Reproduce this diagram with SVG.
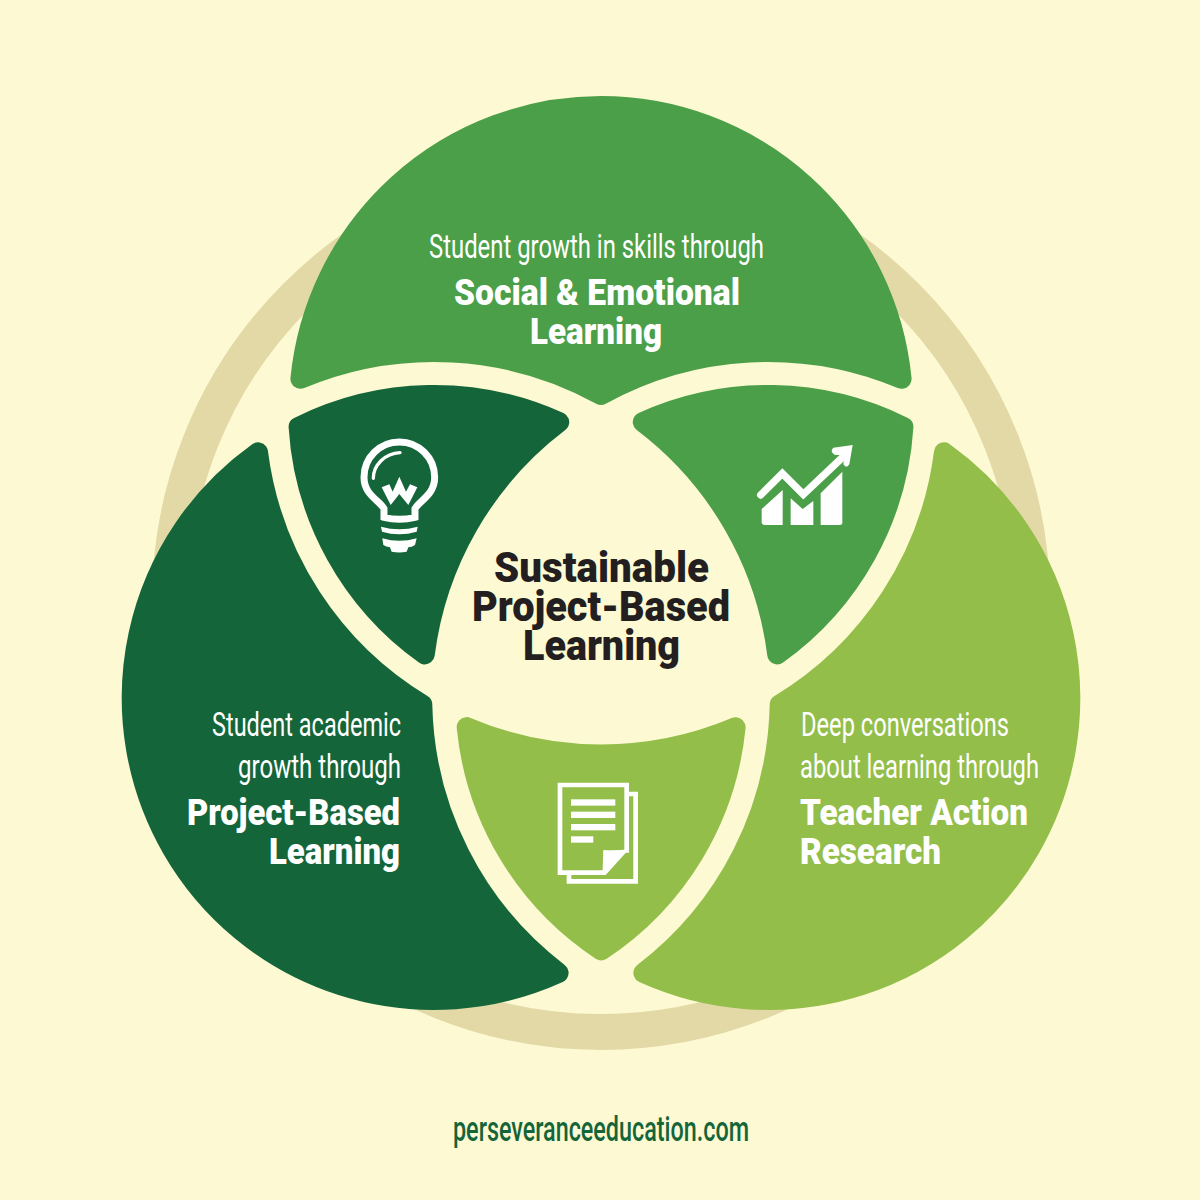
<svg xmlns="http://www.w3.org/2000/svg" width="1200" height="1200" viewBox="0 0 1200 1200">
<style>
.dark{fill:#14663A;stroke:#14663A}
.mid{fill:#4B9F48;stroke:#4B9F48}
.light{fill:#93BE4A;stroke:#93BE4A}
.shape{stroke-width:20;stroke-linejoin:round}
text{font-family:"Roboto","Liberation Sans",sans-serif}
.thin{font-size:33px;font-weight:400;fill:#fff}
.bold{font-size:37px;font-weight:900;fill:#fff}
.title{font-size:42px;font-weight:900;fill:#231F20}
.url{font-size:35px;font-weight:500;fill:#14663A}
.ico{fill:#fff}
.line{fill:none;stroke:#fff}
</style>
<rect width="1200" height="1200" fill="#FDF9D3"/>
<circle id="ring" cx="601" cy="601" r="431" fill="none" stroke="#E3D9A7" stroke-width="36"/>

<g id="petal-top">
<path class="mid shape" d="M300.42,378.83A302,302 0 0 1 901.58,378.83A346,346 0 0 0 601,394.97A346,346 0 0 0 300.42,378.83Z"/>
<text class="thin" x="429" y="258" textLength="335" lengthAdjust="spacingAndGlyphs">Student growth in skills through</text>
<text class="bold" x="454" y="305" textLength="286" lengthAdjust="spacingAndGlyphs">Social &amp; Emotional</text>
<text class="bold" x="530" y="344" textLength="132" lengthAdjust="spacingAndGlyphs">Learning</text>
</g>

<g id="petal-left">
<path class="dark shape" d="M558.6,972.88A302,302 0 0 1 258.02,452.28A346,346 0 0 0 422.29,704.51A346,346 0 0 0 558.6,972.88Z"/>
<text class="thin" x="212" y="736" textLength="189" lengthAdjust="spacingAndGlyphs">Student academic</text>
<text class="thin" x="238" y="778" textLength="163" lengthAdjust="spacingAndGlyphs">growth through</text>
<text class="bold" x="187" y="825" textLength="213" lengthAdjust="spacingAndGlyphs">Project-Based</text>
<text class="bold" x="269" y="864" textLength="131" lengthAdjust="spacingAndGlyphs">Learning</text>
</g>

<g id="petal-right">
<path class="light shape" d="M943.98,452.28A302,302 0 0 1 643.4,972.88A346,346 0 0 0 779.71,704.51A346,346 0 0 0 943.98,452.28Z"/>
<text class="thin" x="801" y="736" textLength="208" lengthAdjust="spacingAndGlyphs">Deep conversations</text>
<text class="thin" x="800" y="778" textLength="239" lengthAdjust="spacingAndGlyphs">about learning through</text>
<text class="bold" x="800" y="825" textLength="228" lengthAdjust="spacingAndGlyphs">Teacher Action</text>
<text class="bold" x="800" y="864" textLength="141" lengthAdjust="spacingAndGlyphs">Research</text>
</g>

<g id="lens-bulb">
<path class="dark shape" d="M298.6,426.9A303,303 0 0 1 559.22,422.1A346,346 0 0 0 424.75,654.47A303,303 0 0 1 298.6,426.9Z"/>
<g transform="translate(350 430) scale(.3333)">
<path class="line" stroke-width="21" d="M102,262L102,236C88,210 42,195 42,142A106,106 0 1 1 254,142C254,195 210,210 195,236L195,262Q148,274 102,262Z"/>
<path class="line" stroke-width="10" stroke-linecap="round" d="M70,145C70,105 105,70 150,68"/>
<polygon class="ico" points="95,172 118,163 128,185 148,140 168,185 180,163 202,172 175,225 148,192 122,225"/>
<path class="ico" d="M93,290Q148,306 203,290L200,305Q148,320 96,305Z"/>
<path class="ico" d="M97,325Q148,340 200,325L195,345Q185,352 175,352L170,365Q148,370 125,365L120,352Q108,350 100,345Z"/>
</g>
</g>

<g id="lens-chart">
<path class="mid shape" d="M642.78,422.1A303,303 0 0 1 903.4,426.9A303,303 0 0 1 777.25,654.47A346,346 0 0 0 642.78,422.1Z"/>
<g transform="translate(750 435) scale(.3333)">
<polyline class="line" stroke-width="22" stroke-linecap="round" stroke-linejoin="miter" points="32,180 97,115 160,178 285,60"/>
<path class="ico" d="M250,38L308,30L298,88Q290,102 280,88L283,60L255,60Q238,50 250,38Z"/>
<path class="ico" d="M35,222L98,165L98,270L44,270Q35,270 35,262Z"/>
<polygon class="ico" points="122,190 158,222 190,198 190,270 122,270"/>
<path class="ico" d="M212,175L277,110L277,262Q277,270 270,270L212,270Z"/>
</g>
</g>

<g id="lens-docs">
<path class="light shape" d="M601.14,950.4A303,303 0 0 1 466.67,727.1A346,346 0 0 0 735.6,727.3A303,303 0 0 1 601.14,950.4Z"/>
<g transform="translate(440 700) scale(.3333)">
<path class="line" stroke-width="14" d="M566,282L587,282L587,544L387,544L387,522"/>
<path class="line" stroke-width="14" d="M560,458L560,255L360,255L360,518L497,518"/>
<path class="ico" d="M490,450Q530,452 567,448L497,525Q486,515 488,505Z"/>
<rect class="ico" x="393" y="298" width="133" height="19"/>
<rect class="ico" x="393" y="335" width="133" height="19"/>
<rect class="ico" x="393" y="372" width="133" height="19"/>
<rect class="ico" x="393" y="409" width="67" height="19"/>
</g>
</g>

<g id="center">
<text class="title" x="494" y="582" textLength="215" lengthAdjust="spacingAndGlyphs">Sustainable</text>
<text class="title" x="472" y="621" textLength="258" lengthAdjust="spacingAndGlyphs">Project-Based</text>
<text class="title" x="523" y="660" textLength="157" lengthAdjust="spacingAndGlyphs">Learning</text>
</g>

<text id="footer" class="url" x="453" y="1141" textLength="296" lengthAdjust="spacingAndGlyphs">perseveranceeducation.com</text>
</svg>
